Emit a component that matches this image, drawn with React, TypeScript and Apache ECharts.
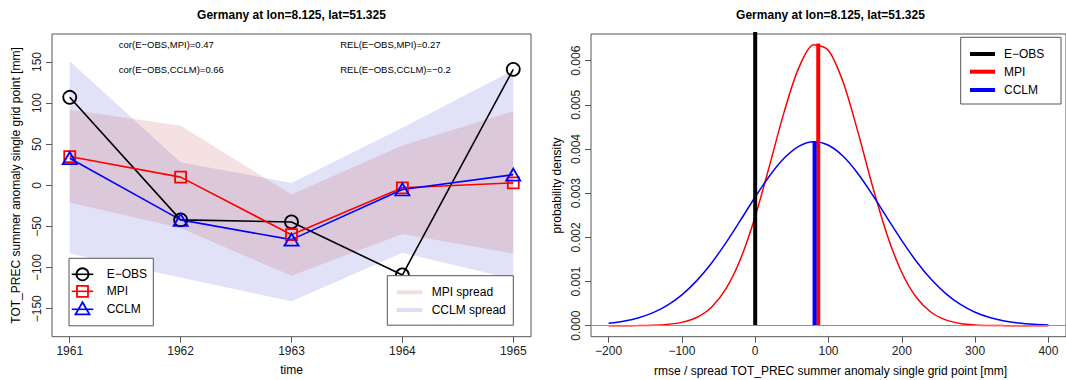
import React, { useEffect, useRef } from "react";
import * as echarts from "echarts";

// ---------- data ----------
const years = [1961, 1962, 1963, 1964, 1965];
const eobs = [107, -42, -44.5, -109, 141];
const mpi = [35, 10, -60, -3, 3];
const cclm = [33, -42, -66, -5, 13];
const mpiUpper = [92, 72.5, -11, 48.5, 90];
const mpiLower = [-21, -52, -110, -59, -83];
const cclmUpper = [151, 28, 3, 70, 140];
const cclmLower = [-83, -112, -141, -82, -114];

const leftYTicks = [-150, -100, -50, 0, 50, 100, 150];
const rightXTicks = [-200, -100, 0, 100, 200, 300, 400];
const rightYTicks = [0, 0.001, 0.002, 0.003, 0.004, 0.005, 0.006];

const pdfX = [
  -200, -180, -160, -140, -120, -100, -80, -60, -40, -20, 0, 20, 40, 60, 80, 100,
  120, 140, 160, 180, 200, 220, 240, 260, 280, 300, 320, 340, 360, 380, 400,
];
const mpiPdf = [
  0.0000002, 0.0000007, 0.0000027, 0.0000091, 0.0000275, 0.0000751, 0.0001858,
  0.0004134, 0.000833, 0.001509, 0.002472, 0.003653, 0.00487, 0.005859, 0.006361,
  0.006231, 0.005509, 0.004394, 0.003163, 0.002055, 0.001205, 0.000637, 0.000304,
  0.0001309, 0.0000509, 0.0000178, 0.0000056, 0.0000016, 0.0000004, 0.0000001, 0,
];
const cclmPdf = [
  0.0000564, 0.0001019, 0.000176, 0.0002912, 0.0004612, 0.000699, 0.001015,
  0.00141, 0.001876, 0.00239, 0.002914, 0.003402, 0.003801, 0.004067, 0.004166,
  0.004085, 0.003835, 0.003446, 0.002965, 0.002443, 0.001926, 0.001454, 0.001051,
  0.000727, 0.000482, 0.000305, 0.0001855, 0.0001078, 0.0000599, 0.0000319,
  0.0000163,
];
const eobsRmse = 0;
const mpiSpread = 86;
const mpiPeak = 0.00639;
const cclmSpread = 81;
const cclmPeak = 0.004166;

const titleText = "Germany at lon=8.125, lat=51.325";
const FONT = "'Liberation Sans', Arial, Helvetica, sans-serif";

const MPI_BAND = "rgba(200,90,90,0.18)";
const CCLM_BAND = "rgba(90,90,215,0.18)";
const AXIS_GREY = "#555";

const minus = (s: string) => s.replace(/-/g, "\u2212");

function band(upper: number[], lower: number[], fill: string) {
  return {
    type: "custom",
    xAxisIndex: 0,
    yAxisIndex: 0,
    silent: true,
    z: 1,
    label: { show: false },
    data: [[years[2], upper[2]]],
    renderItem: (_p: any, api: any) => {
      const pts: number[][] = [];
      for (let i = 0; i < years.length; i++) pts.push(api.coord([years[i], upper[i]]));
      for (let i = years.length - 1; i >= 0; i--) pts.push(api.coord([years[i], lower[i]]));
      return { type: "polygon", shape: { points: pts }, style: { fill } };
    },
  };
}

function lineSeries(vals: number[], color: string, symbol: string, size: any) {
  return {
    type: "line",
    xAxisIndex: 0,
    yAxisIndex: 0,
    z: 3,
    data: years.map((y, i) => [y, vals[i]]),
    symbol,
    symbolSize: size,
    showSymbol: true,
    label: { show: false },
    lineStyle: { color, width: 1.6 },
    itemStyle: { color: "rgba(0,0,0,0)", borderColor: color, borderWidth: 1.8 },
  };
}

function txt(x: number, y: number, text: string, size: number, extra: any = {}) {
  return {
    type: "text",
    x,
    y,
    z: 100,
    style: {
      text,
      fontSize: size,
      fontFamily: FONT,
      fill: "#000",
      align: "left",
      verticalAlign: "middle",
      ...extra,
    },
  };
}

function hline(x1: number, x2: number, y: number, color: string, w: number) {
  return {
    type: "line",
    z: 100,
    shape: { x1, y1: y, x2, y2: y },
    style: { stroke: color, lineWidth: w },
  };
}

export default function App() {
  const ref = useRef<HTMLDivElement>(null);
  useEffect(() => {
    document.body.style.margin = "0";
    const chart = echarts.init(ref.current!, null, { renderer: "svg" });
    const axisLabelBase = { fontSize: 12, color: "#222", fontFamily: FONT };
    const tickStyle = { show: true, length: 6, lineStyle: { color: AXIS_GREY, width: 1 } };
    const noLine = { show: false, onZero: false };

    const graphics: any[] = [
      // titles
      txt(291.5, 14.5, titleText, 12, { align: "center", fontWeight: "bold" }),
      txt(830.5, 14.5, titleText, 12, { align: "center", fontWeight: "bold" }),
      // axis titles
      txt(291.5, 370, "time", 12, { align: "center" }),
      txt(830.5, 370.5, "rmse / spread TOT_PREC summer anomaly single grid point [mm]", 12, {
        align: "center",
      }),
      {
        type: "text",
        x: 16,
        y: 185.4,
        rotation: Math.PI / 2,
        z: 100,
        style: {
          text: "TOT_PREC summer anomaly single grid point [mm]",
          fontSize: 12,
          fontFamily: FONT,
          fill: "#000",
          align: "center",
          verticalAlign: "middle",
        },
      },
      {
        type: "text",
        x: 557,
        y: 185.4,
        rotation: Math.PI / 2,
        z: 100,
        style: {
          text: "probability density",
          fontSize: 12,
          fontFamily: FONT,
          fill: "#000",
          align: "center",
          verticalAlign: "middle",
        },
      },
      // annotations
      txt(118.8, 44.3, minus("cor(E-OBS,MPI)=0.47"), 9.5),
      txt(118.8, 69.3, minus("cor(E-OBS,CCLM)=0.66"), 9.5),
      txt(340.2, 44.3, minus("REL(E-OBS,MPI)=0.27"), 9.5),
      txt(340.2, 69.3, minus("REL(E-OBS,CCLM)=-0.2"), 9.5),
      // left legend
      {
        type: "rect",
        z: 99,
        shape: { x: 69, y: 258.3, width: 84.3, height: 67.5 },
        style: { fill: "#fff", stroke: AXIS_GREY, lineWidth: 1 },
      },
      hline(71.7, 93.3, 274.3, "#000", 1.6),
      {
        type: "circle",
        z: 101,
        shape: { cx: 82.5, cy: 274.3, r: 6 },
        style: { fill: "none", stroke: "#000", lineWidth: 1.8 },
      },
      txt(106.7, 274.3, minus("E-OBS"), 12),
      hline(71.7, 93.3, 291.3, "#ff0000", 1.6),
      {
        type: "rect",
        z: 101,
        shape: { x: 77, y: 285.8, width: 11, height: 11 },
        style: { fill: "none", stroke: "#ff0000", lineWidth: 1.8 },
      },
      txt(106.7, 291.3, "MPI", 12),
      hline(71.7, 93.3, 309.3, "#0000ff", 1.6),
      {
        type: "polygon",
        z: 101,
        shape: {
          points: [
            [82.5, 302.3],
            [89.5, 314.3],
            [75.5, 314.3],
          ],
        },
        style: { fill: "none", stroke: "#0000ff", lineWidth: 1.8 },
      },
      txt(106.7, 309.3, "CCLM", 12),
      // spread legend
      {
        type: "rect",
        z: 99,
        shape: { x: 387.3, y: 275.7, width: 126, height: 49.5 },
        style: { fill: "#fff", stroke: AXIS_GREY, lineWidth: 1 },
      },
      hline(396.7, 422.3, 292.3, "#f3dede", 4),
      txt(431.7, 292.3, "MPI spread", 12),
      hline(396.7, 422.3, 310, "#dedef3", 4),
      txt(431.7, 310, "CCLM spread", 12),
      // right legend
      {
        type: "rect",
        z: 99,
        shape: { x: 960.7, y: 37.3, width: 100.3, height: 66.7 },
        style: { fill: "#fff", stroke: AXIS_GREY, lineWidth: 1 },
      },
      hline(970, 995, 54, "#000", 4),
      txt(1004, 54, minus("E-OBS"), 12),
      hline(970, 995, 71.7, "#ff0000", 4),
      txt(1004, 71.7, "MPI", 12),
      hline(970, 995, 90, "#0000ff", 4),
      txt(1004, 90, "CCLM", 12),
    ];

    chart.setOption({
      animation: false,
      backgroundColor: "#fff",
      grid: [
        { left: 52, top: 34, width: 479, height: 302.7, show: true, borderColor: AXIS_GREY, borderWidth: 1 },
        { left: 591, top: 34, width: 479, height: 302.7, show: true, borderColor: AXIS_GREY, borderWidth: 1 },
      ],
      xAxis: [
        {
          type: "value",
          gridIndex: 0,
          position: "bottom",
          min: 1960.84,
          max: 1965.16,
          axisLine: noLine,
          splitLine: { show: false },
          axisTick: { ...tickStyle, customValues: years },
          axisLabel: { ...axisLabelBase, margin: 8, customValues: years, formatter: (v: number) => String(v) },
        },
        {
          type: "value",
          gridIndex: 1,
          position: "bottom",
          min: -224,
          max: 424,
          axisLine: noLine,
          splitLine: { show: false },
          axisTick: { ...tickStyle, customValues: rightXTicks },
          axisLabel: {
            ...axisLabelBase,
            margin: 8,
            customValues: rightXTicks,
            formatter: (v: number) => minus(String(v)),
          },
        },
      ],
      yAxis: [
        {
          type: "value",
          gridIndex: 0,
          position: "left",
          min: -184,
          max: 184,
          axisLine: noLine,
          splitLine: { show: false },
          axisTick: { ...tickStyle, customValues: leftYTicks },
          axisLabel: {
            ...axisLabelBase,
            rotate: 90,
            margin: 9,
            customValues: leftYTicks,
            formatter: (v: number) => minus(String(v)),
          },
        },
        {
          type: "value",
          gridIndex: 1,
          position: "left",
          min: -0.000249,
          max: 0.006604,
          axisLine: noLine,
          splitLine: { show: false },
          axisTick: { ...tickStyle, customValues: rightYTicks },
          axisLabel: {
            ...axisLabelBase,
            rotate: 90,
            margin: 9,
            customValues: rightYTicks,
            formatter: (v: number) => v.toFixed(3),
          },
        },
      ],
      series: [
        band(cclmUpper, cclmLower, CCLM_BAND),
        band(mpiUpper, mpiLower, MPI_BAND),
        lineSeries(eobs, "#000000", "circle", 13),
        lineSeries(mpi, "#ff0000", "rect", 11),
        lineSeries(cclm, "#0000ff", "triangle", [14, 12]),
        // right panel
        {
          type: "line",
          xAxisIndex: 1,
          yAxisIndex: 1,
          showSymbol: false,
          symbol: "none",
          data: [
            [eobsRmse, 0],
            [eobsRmse, 0.0068],
          ],
          lineStyle: { color: "#000", width: 4 },
          z: 4,
          markLine: {
            silent: true,
            symbol: "none",
            label: { show: false },
            lineStyle: { color: "#909090", width: 1, type: "solid" },
            data: [{ yAxis: 0 }],
          },
        },
        {
          type: "line",
          xAxisIndex: 1,
          yAxisIndex: 1,
          showSymbol: false,
          symbol: "none",
          smooth: 0.3,
          data: pdfX.map((x, i) => [x, mpiPdf[i]]),
          lineStyle: { color: "#ff0000", width: 1.5 },
          z: 3,
        },
        {
          type: "line",
          xAxisIndex: 1,
          yAxisIndex: 1,
          showSymbol: false,
          symbol: "none",
          smooth: 0.3,
          data: pdfX.map((x, i) => [x, cclmPdf[i]]),
          lineStyle: { color: "#0000ff", width: 1.5 },
          z: 3,
        },
        {
          type: "line",
          xAxisIndex: 1,
          yAxisIndex: 1,
          showSymbol: false,
          symbol: "none",
          data: [
            [mpiSpread, 0],
            [mpiSpread, mpiPeak],
          ],
          lineStyle: { color: "#ff0000", width: 4 },
          z: 4,
        },
        {
          type: "line",
          xAxisIndex: 1,
          yAxisIndex: 1,
          showSymbol: false,
          symbol: "none",
          data: [
            [cclmSpread, 0],
            [cclmSpread, cclmPeak],
          ],
          lineStyle: { color: "#0000ff", width: 4 },
          z: 4,
        },
      ],
      graphic: graphics,
    });
    return () => chart.dispose();
  }, []);
  return <div ref={ref} style={{ width: 1066, height: 380 }} />;
}
